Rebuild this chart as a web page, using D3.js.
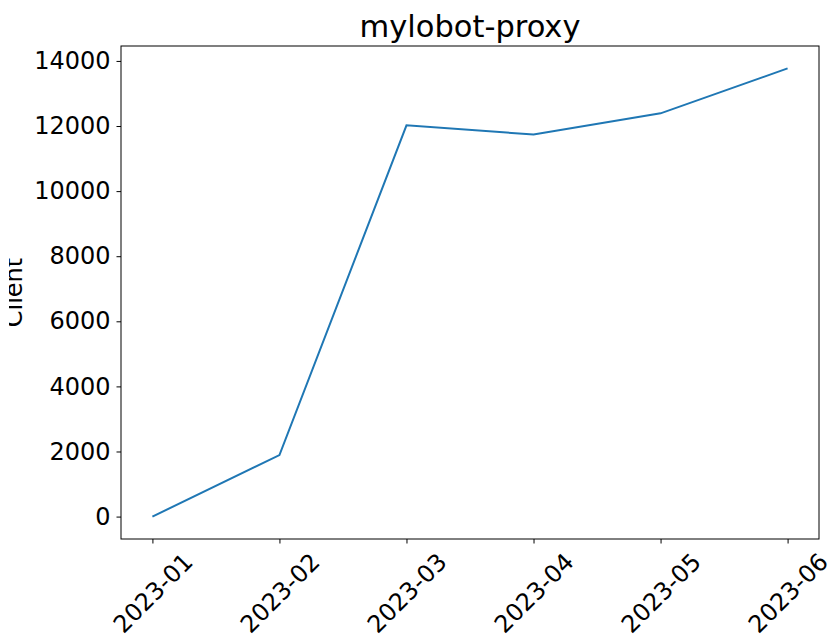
<!DOCTYPE html>
<html>
<head>
<meta charset="utf-8">
<script src="https://cdn.jsdelivr.net/npm/d3@7"></script>
<style>
  body { margin: 0; background: #fff; }
  text { font-family: "DejaVu Sans", sans-serif; fill: #000; }
</style>
</head>
<body>
<div id="chart"></div>
<script>
// data
const months = ["2023-01", "2023-02", "2023-03", "2023-04", "2023-05", "2023-06"];
const clients = [0, 1890, 12020, 11740, 12390, 13770];
const yTicks = [0, 2000, 4000, 6000, 8000, 10000, 12000, 14000];

const W = 828, H = 637;
const margin = { top: 46, right: 9, bottom: 98, left: 121 };
const innerW = W - margin.left - margin.right;
const innerH = H - margin.top - margin.bottom;

const svg = d3.select("#chart").append("svg")
    .attr("width", W)
    .attr("height", H);

// the original picture cuts the y label off on the left
svg.append("defs").append("clipPath")
    .attr("id", "ylabel-clip")
    .append("rect")
    .attr("x", 9).attr("y", 0)
    .attr("width", W).attr("height", H);

const g = svg.append("g")
    .attr("transform", `translate(${margin.left},${margin.top})`);

// matplotlib style 5% padding on both axes
const x = d3.scalePoint()
    .domain(months)
    .range([innerW * 0.045, innerW * 0.955]);

const ymax = d3.max(clients);
const y = d3.scaleLinear()
    .domain([-ymax * 0.05, ymax * 1.05])
    .range([innerH, 0]);

// y axis
const yAxis = g.append("g")
    .call(d3.axisLeft(y).tickValues(yTicks).tickSize(4.5).tickPadding(6).tickFormat(d3.format("d")));
yAxis.select(".domain").remove();
yAxis.selectAll("line").attr("stroke", "#000").attr("stroke-width", 1);
yAxis.selectAll("text").style("font-size", "24px").attr("font-family", null);

// x axis
const xAxis = g.append("g")
    .attr("transform", `translate(0,${innerH})`)
    .call(d3.axisBottom(x).tickSize(4.5).tickFormat(""));
xAxis.select(".domain").remove();
xAxis.selectAll("line").attr("stroke", "#000").attr("stroke-width", 1);
xAxis.selectAll(".tick")
    .append("text")
    .attr("transform", "translate(0,54) rotate(-45)")
    .attr("text-anchor", "middle")
    .attr("dy", "0.35em")
    .style("font-size", "24px")
    .text(d => d);

// frame
g.append("rect")
    .attr("width", innerW)
    .attr("height", innerH)
    .attr("fill", "none")
    .attr("stroke", "#000")
    .attr("stroke-width", 1);

// the line
g.append("path")
    .datum(clients)
    .attr("fill", "none")
    .attr("stroke", "#1f77b4")
    .attr("stroke-width", 2)
    .attr("d", d3.line()
        .x((d, i) => x(months[i]))
        .y(d => y(d)));

// title and y label
svg.append("text")
    .attr("x", margin.left + innerW / 2)
    .attr("y", 37)
    .attr("text-anchor", "middle")
    .style("font-size", "30.5px")
    .text("mylobot-proxy");

svg.append("g")
    .attr("clip-path", "url(#ylabel-clip)")
    .append("text")
    .attr("transform", `translate(22,${margin.top + innerH / 2}) rotate(-90)`)
    .attr("text-anchor", "middle")
    .style("font-size", "24px")
    .text("Client");
</script>
</body>
</html>
